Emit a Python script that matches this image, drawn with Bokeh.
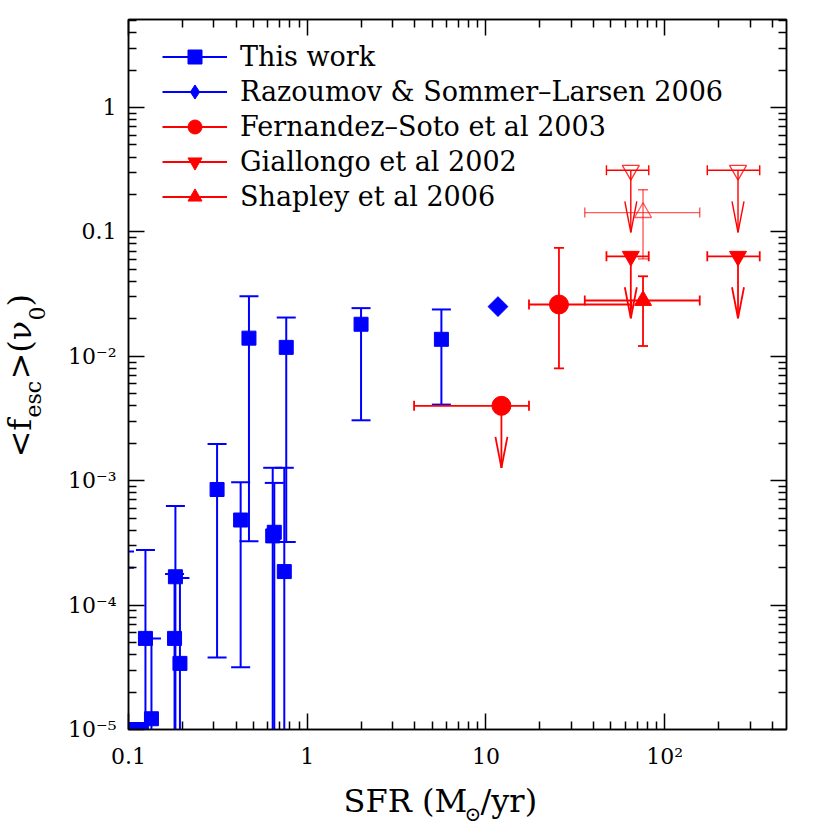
import json
import math
import numpy as np
from bokeh.plotting import figure
from bokeh.layouts import row, column
from bokeh.models import (LogAxis, FixedTicker, CustomJSTickFormatter,
                          Legend, LegendItem, Range1d)
from bokeh.core.properties import value
from bokeh.embed import file_html
from bokeh.resources import INLINE

# ---------------- data ----------------
# This work: SFR, <f_esc>, upper end of bar, lower end of bar
# lower = 0.0 -> bar runs below the plotted range; nan -> no bar
tw_sfr = [0.095, 0.095, 0.1026, 0.118, 0.1244, 0.1344, 0.183, 0.181, 0.194,
          0.313, 0.424, 0.472, 0.654, 0.641, 0.744, 0.763, 2.00, 5.63]
tw_fesc = [1.0e-5, 1.0e-5, 1.0e-5, 1.0e-5, 5.4e-5, 1.22e-5, 1.69e-4, 5.4e-5, 3.4e-5,
           8.5e-4, 4.83e-4, 1.40e-2, 3.85e-4, 3.6e-4, 1.86e-4, 1.18e-2, 1.81e-2, 1.37e-2]
tw_hi = [2.7e-4, 2.0e-4, np.nan, np.nan, 2.77e-4, 5.4e-5, 6.25e-4, 1.78e-4, 1.65e-4,
         1.97e-3, 9.7e-4, 3.04e-2, 9.6e-4, 1.27e-3, 1.27e-3, 2.05e-2, 2.44e-2, 2.38e-2]
tw_lo = [0.0, 0.0, np.nan, np.nan, 0.0, 0.0, 0.0, 0.0, 0.0,
         3.8e-5, 3.16e-5, 3.26e-4, 0.0, 0.0, 0.0, 3.22e-4, 3.06e-3, 4.09e-3]

# Razoumov & Sommer-Larsen 2006
rs_sfr = [11.67]
rs_fesc = [0.0251]

# Fernandez-Soto et al 2003
fs_sfr = [12.2, 25.6]
fs_fesc = [4.0e-3, 2.61e-2]
fs_sfr_lo = [3.96, 17.4]
fs_sfr_hi = [17.4, 65.0]
fs_fesc_lo = [np.nan, 8.0e-3]
fs_fesc_hi = [np.nan, 7.43e-2]
fs_upper = [True, False]

# Giallongo et al 2002 (all upper limits; open = alternative estimate)
gi_sfr = [64.6, 257.0, 64.6, 257.0]
gi_fesc = [0.0637, 0.0637, 0.313, 0.313]
gi_sfr_lo = [47.2, 173.0, 47.2, 173.0]
gi_sfr_hi = [81.4, 340.0, 81.4, 340.0]
gi_open = [False, False, True, True]

# Shapley et al 2006
sh_sfr = [75.6, 75.6]
sh_fesc = [0.0281, 0.143]
sh_sfr_lo = [35.7, 35.7]
sh_sfr_hi = [157.0, 157.0]
sh_fesc_lo = [0.0121, 0.0607]
sh_fesc_hi = [0.044, 0.218]
sh_open = [False, True]

legend_labels = ["This work", "Razoumov & Sommer–Larsen 2006",
                 "Fernandez–Soto et al 2003", "Giallongo et al 2002",
                 "Shapley et al 2006"]

x_ticks = [0.1, 1, 10, 100]
x_tick_labels = ["0.1", "1", "10", "10²"]
y_ticks = [1e-5, 1e-4, 1e-3, 1e-2, 0.1, 1]
y_tick_labels = ["10⁻⁵", "10⁻⁴", "10⁻³", "10⁻²", "0.1", "1"]

# axis titles, split so that the sub-scripts can be lowered
y_title_parts = ["<f", "esc", ">(ν", "0", ")"]
x_title_parts = ["SFR (M", "⊙", "/yr)"]

# ---------------- style ----------------
FONT = "DejaVu Serif"
BLUE = "#0000ff"
RED = "#ff0000"
X0, X1 = 0.1, 480.0
Y0, Y1 = 1e-5, 5.1
FW, FH = 658, 710
LB, TB, RB, BB = 70, 19, 20, 50      # borders of the main figure
YLAB_W = 58                          # width of the y-title strip
TOTAL_H = 828
DESC = 0.236                         # font descent (em), for bottom-anchored text

x_dec = FW / math.log10(X1 / X0)   # px per decade
y_dec = FH / math.log10(Y1 / Y0)
BELOW = 1e-9

p = figure(x_axis_type="log", y_axis_type="log",
           x_range=Range1d(X0, X1), y_range=Range1d(Y0, Y1),
           frame_width=FW, frame_height=FH, title=None,
           min_border_left=LB, min_border_top=TB, min_border_right=RB,
           min_border_bottom=BB, output_backend="svg", toolbar_location=None,
           background_fill_color="white", border_fill_color="white")
p.grid.visible = False
p.outline_line_color = "black"
p.outline_line_width = 1.5


def minor_list(lo, hi):
    out = []
    for e in range(-7, 4):
        for m in range(2, 10):
            v = m * 10.0 ** e
            if lo < v < hi:
                out.append(v)
    return out


def fmt(ticks, labels):
    return CustomJSTickFormatter(code="""
const t = %s; const l = %s;
for (let i = 0; i < t.length; i++) {
  if (Math.abs(Math.log10(tick) - Math.log10(t[i])) < 1e-6) return l[i];
}
return "";""" % (json.dumps(ticks), json.dumps(labels, ensure_ascii=False)))


xt = FixedTicker(ticks=x_ticks, minor_ticks=minor_list(X0, X1))
yt = FixedTicker(ticks=y_ticks, minor_ticks=minor_list(Y0, Y1))


def style_axis(ax, show_labels):
    ax.major_tick_in = 16
    ax.major_tick_out = 0
    ax.minor_tick_in = 8
    ax.minor_tick_out = 0
    ax.major_tick_line_width = 1.5
    ax.minor_tick_line_width = 1.5
    ax.axis_line_width = 1.5
    ax.major_tick_line_color = "black"
    ax.minor_tick_line_color = "black"
    ax.axis_line_color = "black"
    ax.major_label_text_font = FONT
    if show_labels:
        ax.major_label_text_font_size = "22px"
        ax.major_label_text_color = "black"
    else:
        ax.major_label_text_font_size = "0px"
        ax.major_label_standoff = 0


p.xaxis.ticker = xt
p.xaxis.formatter = fmt(x_ticks, x_tick_labels)
p.yaxis.ticker = yt
p.yaxis.formatter = fmt(y_ticks, y_tick_labels)
style_axis(p.xaxis[0], True)
style_axis(p.yaxis[0], True)
p.xaxis.major_label_standoff = 14
p.yaxis.major_label_standoff = 12

top = LogAxis(ticker=xt, formatter=fmt(x_ticks, [""] * len(x_ticks)))
right = LogAxis(ticker=yt, formatter=fmt(y_ticks, [""] * len(y_ticks)))
style_axis(top, False)
style_axis(right, False)
p.add_layout(top, "above")
p.add_layout(right, "right")


def arr(a):
    return np.array(a, dtype=float)


def vbars(xs, ylo, yhi, color, lw, cap, alpha=1.0):
    xs, ylo, yhi = arr(xs), arr(ylo), arr(yhi)
    ok = np.isfinite(ylo) & np.isfinite(yhi)
    lo_draw = np.where(ylo > 0, ylo, BELOW)
    r = p.segment(x0=xs[ok], y0=lo_draw[ok], x1=xs[ok], y1=yhi[ok],
                  line_color=color, line_width=lw, line_alpha=alpha)
    cx = np.concatenate([xs[ok], xs[ok & (ylo > 0)]])
    cy = np.concatenate([yhi[ok], ylo[ok & (ylo > 0)]])
    p.scatter(cx, cy, marker="dash", size=cap, line_color=color,
              line_width=lw, line_alpha=alpha)
    return r


def hbars(ys, xlo, xhi, color, lw, cap, alpha=1.0):
    ys, xlo, xhi = arr(ys), arr(xlo), arr(xhi)
    r = p.segment(x0=xlo, y0=ys, x1=xhi, y1=ys, line_color=color,
                  line_width=lw, line_alpha=alpha)
    p.scatter(np.concatenate([xlo, xhi]), np.concatenate([ys, ys]),
              marker="dash", angle=math.pi / 2, size=cap, line_color=color,
              line_width=lw, line_alpha=alpha)
    return r


def arrows(xs, ys, color, lw, alpha=1.0):
    xs, ys = arr(xs), arr(ys)
    tip = ys / 10 ** (62.0 / y_dec)
    hy = tip * 10 ** (31.0 / y_dec)
    hx = 10 ** (6.0 / x_dec)
    p.segment(x0=np.concatenate([xs, xs / hx, xs * hx]),
              y0=np.concatenate([ys, hy, hy]),
              x1=np.concatenate([xs, xs, xs]),
              y1=np.concatenate([tip, tip, tip]),
              line_color=color, line_width=lw, line_alpha=alpha)


# ---- This work ----
r_tw_bar = vbars(tw_sfr, tw_lo, tw_hi, BLUE, 2, 19)
r_tw = p.scatter(tw_sfr, tw_fesc, marker="square", size=14,
                 fill_color=BLUE, line_color=BLUE)

# ---- Razoumov ----
p.scatter(rs_sfr, rs_fesc, marker="square", angle=math.pi / 4, size=14,
          fill_color=BLUE, line_color=BLUE)
r_rs_leg = p.scatter(x=[np.nan], y=[np.nan], marker="diamond", size=14,
                     fill_color=BLUE, line_color=BLUE)

# ---- Fernandez-Soto ----
r_fs_bar = hbars(fs_fesc, fs_sfr_lo, fs_sfr_hi, RED, 1.8, 10)
vbars(fs_sfr, fs_fesc_lo, fs_fesc_hi, RED, 1.8, 10)
arrows([x for x, u in zip(fs_sfr, fs_upper) if u],
       [y for y, u in zip(fs_fesc, fs_upper) if u], RED, 1.8)
r_fs = p.scatter(fs_sfr, fs_fesc, marker="circle", size=19,
                 fill_color=RED, line_color=RED)

# ---- Giallongo ----
gf = [i for i, o in enumerate(gi_open) if not o]
go = [i for i, o in enumerate(gi_open) if o]
r_gi_bar = hbars([gi_fesc[i] for i in gf], [gi_sfr_lo[i] for i in gf],
                 [gi_sfr_hi[i] for i in gf], RED, 1.8, 10)
hbars([gi_fesc[i] for i in go], [gi_sfr_lo[i] for i in go],
      [gi_sfr_hi[i] for i in go], RED, 1.4, 10)
arrows([gi_sfr[i] for i in gf], [gi_fesc[i] for i in gf], RED, 1.8)
arrows([gi_sfr[i] for i in go], [gi_fesc[i] for i in go], RED, 1.4)
r_gi = p.scatter([gi_sfr[i] for i in gf], [gi_fesc[i] for i in gf],
                 marker="inverted_triangle", size=17, fill_color=RED, line_color=RED)
p.scatter([gi_sfr[i] for i in go], [gi_fesc[i] for i in go],
          marker="inverted_triangle", size=17, fill_color=None, line_color=RED,
          line_width=1.3, line_alpha=0.8)

# ---- Shapley ----
sf = [i for i, o in enumerate(sh_open) if not o]
so = [i for i, o in enumerate(sh_open) if o]
r_sh_bar = hbars([sh_fesc[i] for i in sf], [sh_sfr_lo[i] for i in sf],
                 [sh_sfr_hi[i] for i in sf], RED, 1.8, 10)
vbars([sh_sfr[i] for i in sf], [sh_fesc_lo[i] for i in sf],
      [sh_fesc_hi[i] for i in sf], RED, 1.8, 10)
hbars([sh_fesc[i] for i in so], [sh_sfr_lo[i] for i in so],
      [sh_sfr_hi[i] for i in so], RED, 1.4, 10, alpha=0.65)
vbars([sh_sfr[i] for i in so], [sh_fesc_lo[i] for i in so],
      [sh_fesc_hi[i] for i in so], RED, 1.4, 10, alpha=0.65)
r_sh = p.scatter([sh_sfr[i] for i in sf], [sh_fesc[i] for i in sf],
                 marker="triangle", size=17, fill_color=RED, line_color=RED)
p.scatter([sh_sfr[i] for i in so], [sh_fesc[i] for i in so],
          marker="triangle", size=17, fill_color=None, line_color=RED,
          line_width=1.3, line_alpha=0.65)

# ---- legend ----
items = [LegendItem(label=legend_labels[0], renderers=[r_tw_bar, r_tw]),
         LegendItem(label=legend_labels[1], renderers=[r_tw_bar, r_rs_leg]),
         LegendItem(label=legend_labels[2], renderers=[r_fs_bar, r_fs]),
         LegendItem(label=legend_labels[3], renderers=[r_gi_bar, r_gi]),
         LegendItem(label=legend_labels[4], renderers=[r_sh_bar, r_sh])]
legend = Legend(items=items, location=(34, FH - 18.5 - 5 * 35.3),
                padding=0, margin=0, spacing=0, glyph_width=65,
                glyph_height=35, label_height=35, label_standoff=13,
                label_text_font=FONT, label_text_font_size="27px",
                label_text_color="black", background_fill_alpha=0,
                border_line_alpha=0)
p.add_layout(legend)

MAIN_H = TB + FH + BB
MAIN_W = LB + FW + RB
XLAB_H = TOTAL_H - MAIN_H


def text_strip(w, h, xr, yr):
    f = figure(width=w, height=h, x_range=xr, y_range=yr,
               min_border=0, title=None, toolbar_location=None,
               output_backend="svg", x_axis_location=None, y_axis_location=None,
               background_fill_color="white", border_fill_color="white")
    f.outline_line_color = None
    f.grid.visible = False
    return f


def px(size):
    return float(size.replace("px", ""))


# ---- y title strip (left): x = page px, y = px above strip bottom ----
ylab = text_strip(YLAB_W, MAIN_H, Range1d(0, YLAB_W), Range1d(0, MAIN_H))
y_start = MAIN_H - 457          # where the title begins (page y 457)
y_baseline = 31                 # page x of the baseline
y_offsets = [0, 40, 78, 137, 151]
y_lower = [0, 9, 0, 8, 0]
y_sizes = ["32px", "22px", "32px", "22px", "32px"]
for txt, off, dl, size in zip(y_title_parts, y_offsets, y_lower, y_sizes):
    ylab.text(x=[y_baseline + dl + DESC * px(size)], y=[y_start + off], text=[txt],
              angle=math.pi / 2, text_font=value(FONT), text_font_size=size,
              text_color="black", text_align="left", text_baseline="bottom")

# ---- x title strip (below; its frame lines up with the main frame) ----
# x = page px (frame spans page 128..786), y = px above the page bottom (828)
page_left = YLAB_W + LB
xlab = text_strip(MAIN_W, XLAB_H, Range1d(page_left, page_left + FW),
                  Range1d(0, XLAB_H))
x_offsets = [343, 464, 480]
x_baselines = [812, 821, 812]
x_sizes = ["32px", "20px", "32px"]
for txt, xs, bl, size in zip(x_title_parts, x_offsets, x_baselines, x_sizes):
    xlab.text(x=[xs], y=[TOTAL_H - (bl + DESC * px(size))], text=[txt],
              text_font=value(FONT), text_font_size=size, text_color="black",
              text_align="left", text_baseline="bottom")

layout = row(ylab, column(p, xlab))
open("out.html", "w").write(file_html(layout, INLINE))
